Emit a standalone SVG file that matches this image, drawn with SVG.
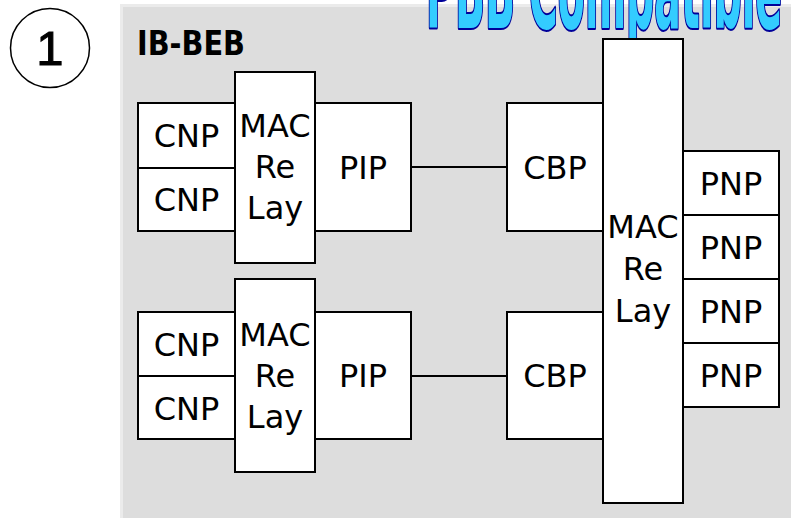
<svg xmlns="http://www.w3.org/2000/svg" width="791" height="518" viewBox="0 0 791 518">
<style>
.box{fill:#FFFFFF;stroke:#000000;stroke-width:2}
.lbl{font-family:"DejaVu Sans","Verdana",sans-serif;font-size:32px;fill:#000000;text-anchor:middle}
.conn{stroke:#000000;stroke-width:2;fill:none}
</style>
<rect width="791" height="518" fill="#FFFFFF"/>
<g id="panel">
<rect x="121.5" y="5.5" width="672" height="515" fill="#DDDDDD" stroke="#EBEBEB" stroke-width="3"/>
<text x="137" y="55" font-family="'DejaVu Sans',Verdana,sans-serif" font-weight="bold" font-size="33" fill="#000000" textLength="108" lengthAdjust="spacingAndGlyphs">IB-BEB</text>
</g>
<g id="title">
<text transform="translate(426,28) scale(1,3)" x="0" y="0" font-family="'DejaVu Sans Condensed','DejaVu Sans',sans-serif" font-stretch="condensed" font-weight="bold" font-size="36" textLength="356" lengthAdjust="spacingAndGlyphs" fill="#33CCFF" stroke="#000099" stroke-width="3" vector-effect="non-scaling-stroke" paint-order="stroke" stroke-linejoin="round">PBB Compatible</text>
</g>
<g id="badge">
<circle cx="50" cy="48" r="39.5" fill="#FFFFFF" stroke="#000000" stroke-width="1.5"/>
<text x="50" y="65" text-anchor="middle" font-family="'Liberation Sans',Arial,sans-serif" font-size="49" fill="#000000" stroke="#000000" stroke-width="1">1</text>
</g>
<g id="connectors">
<line class="conn" x1="411" y1="167" x2="507" y2="167"/>
<line class="conn" x1="411" y1="376" x2="507" y2="376"/>
</g>
<g id="cnp1"><rect class="box" x="138" y="103" width="97" height="65"/><text class="lbl" x="186.5" y="147">CNP</text></g>
<g id="cnp2"><rect class="box" x="138" y="168" width="97" height="63"/><text class="lbl" x="186.5" y="211">CNP</text></g>
<g id="mac1"><rect class="box" x="235" y="72" width="80" height="191"/><text class="lbl" x="275" y="137">MAC</text><text class="lbl" x="275" y="178">Re</text><text class="lbl" x="275" y="219">Lay</text></g>
<g id="pip1"><rect class="box" x="315" y="103" width="96" height="128"/><text class="lbl" x="363" y="179">PIP</text></g>
<g id="cnp3"><rect class="box" x="138" y="312" width="97" height="64"/><text class="lbl" x="186.5" y="356">CNP</text></g>
<g id="cnp4"><rect class="box" x="138" y="376" width="97" height="63"/><text class="lbl" x="186.5" y="420">CNP</text></g>
<g id="mac2"><rect class="box" x="235" y="279" width="80" height="193"/><text class="lbl" x="275" y="346">MAC</text><text class="lbl" x="275" y="387">Re</text><text class="lbl" x="275" y="428">Lay</text></g>
<g id="pip2"><rect class="box" x="315" y="312" width="96" height="127"/><text class="lbl" x="363" y="387">PIP</text></g>
<g id="cbp1"><rect class="box" x="507" y="103" width="96" height="128"/><text class="lbl" x="555" y="179">CBP</text></g>
<g id="cbp2"><rect class="box" x="507" y="312" width="96" height="127"/><text class="lbl" x="555" y="387">CBP</text></g>
<g id="mac3"><rect class="box" x="603" y="39" width="80" height="464"/><text class="lbl" x="643" y="238">MAC</text><text class="lbl" x="643" y="280">Re</text><text class="lbl" x="643" y="322">Lay</text></g>
<g id="pnp1"><rect class="box" x="683" y="151" width="96" height="64"/><text class="lbl" x="731" y="195">PNP</text></g>
<g id="pnp2"><rect class="box" x="683" y="215" width="96" height="64"/><text class="lbl" x="731" y="259">PNP</text></g>
<g id="pnp3"><rect class="box" x="683" y="279" width="96" height="64"/><text class="lbl" x="731" y="323">PNP</text></g>
<g id="pnp4"><rect class="box" x="683" y="343" width="96" height="64"/><text class="lbl" x="731" y="387">PNP</text></g>
</svg>
